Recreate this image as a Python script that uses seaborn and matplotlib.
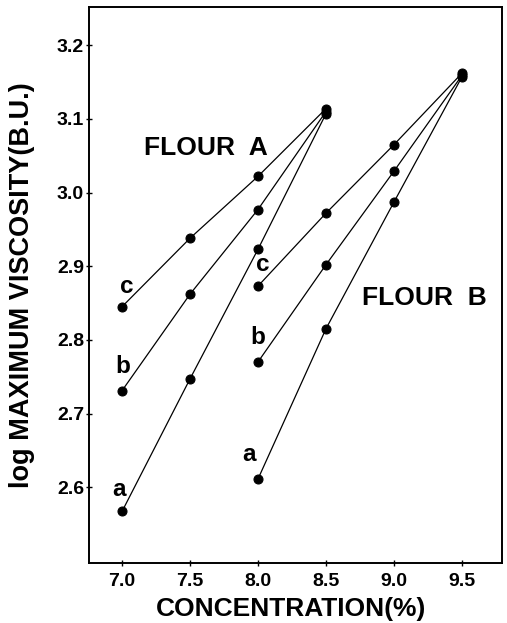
import matplotlib
matplotlib.use("Agg")
import matplotlib.pyplot as plt
import seaborn as sns
import pandas as pd

# Data
conc_A = [7.0, 7.5, 8.0, 8.5]
conc_B = [8.0, 8.5, 9.0, 9.5]
A_a = [2.567, 2.747, 2.923, 3.107]
A_b = [2.731, 2.862, 2.977, 3.110]
A_c = [2.845, 2.938, 3.022, 3.114]
B_a = [2.611, 2.815, 2.987, 3.157]
B_b = [2.770, 2.902, 3.029, 3.159]
B_c = [2.873, 2.972, 3.065, 3.162]
x_ticks = [7.0, 7.5, 8.0, 8.5, 9.0, 9.5]
y_ticks = [2.6, 2.7, 2.8, 2.9, 3.0, 3.1, 3.2]

rows = []
for flour, conc, series in [("A", conc_A, {"a": A_a, "b": A_b, "c": A_c}),
                            ("B", conc_B, {"a": B_a, "b": B_b, "c": B_c})]:
    for name, vals in series.items():
        for c, v in zip(conc, vals):
            rows.append({"flour": flour, "series": name, "conc": c, "logv": v,
                         "key": flour + name})
df = pd.DataFrame(rows)

sns.set_style("ticks")
plt.rcParams['font.family'] = ['Liberation Sans', 'DejaVu Sans']
plt.rcParams['font.weight'] = 'bold'
plt.rcParams['text.color'] = 'black'
plt.rcParams['axes.labelcolor'] = 'black'
plt.rcParams['xtick.color'] = 'black'
plt.rcParams['ytick.color'] = 'black'
plt.rcParams['axes.edgecolor'] = 'black'

fig = plt.figure(figsize=(5.07, 6.23), dpi=100)
ax = fig.add_axes([89 / 507, 60 / 623, (502 - 89) / 507, (563 - 7) / 623])

keys = df["key"].unique()
sns.lineplot(data=df, x="conc", y="logv", hue="key", units="key", estimator=None,
             palette={k: "black" for k in keys}, marker="o", markersize=6.5,
             markeredgecolor="black", linewidth=0.9, legend=False, ax=ax, sort=False)

ax.set_xlim(6.757, 9.795)
ax.set_ylim(2.497, 3.252)
ax.set_xticks(x_ticks)
ax.set_xticklabels([f"{t:.1f}" for t in x_ticks], fontsize=14, fontweight='bold')
ax.set_yticks(y_ticks)
ax.set_yticklabels([f"{t:.1f}" for t in y_ticks], fontsize=14, fontweight='bold')
ax.tick_params(direction='inout', length=4, width=1)
ax.tick_params(axis='x', pad=5)
ax.tick_params(axis='y', pad=1.5)
for s in ax.spines.values():
    s.set_linewidth(1.4)
    s.set_visible(True)

ax.set_xlabel("CONCENTRATION(%)", fontsize=19, fontweight='bold')
ax.xaxis.set_label_coords(0.49, -0.062)
ax.set_ylabel("log MAXIMUM VISCOSITY(B.U.)", fontsize=19.5, fontweight='bold')
ax.yaxis.set_label_coords(-0.131, 0.5)

ax.text(7.62, 3.061, "FLOUR  A", fontsize=19, fontweight='bold', ha='center', va='center')
ax.text(9.227, 2.857, "FLOUR  B", fontsize=19, fontweight='bold', ha='center', va='center')

lab_fs = 17.5
ax.text(7.037, 2.873, "c", fontsize=lab_fs, fontweight='bold', ha='center', va='center')
ax.text(7.007, 2.764, "b", fontsize=lab_fs, fontweight='bold', ha='center', va='center')
ax.text(6.978, 2.597, "a", fontsize=lab_fs, fontweight='bold', ha='center', va='center')
ax.text(8.032, 2.903, "c", fontsize=lab_fs, fontweight='bold', ha='center', va='center')
ax.text(7.996, 2.803, "b", fontsize=lab_fs, fontweight='bold', ha='center', va='center')
ax.text(7.937, 2.644, "a", fontsize=lab_fs, fontweight='bold', ha='center', va='center')

fig.savefig("out.png", dpi=100)
